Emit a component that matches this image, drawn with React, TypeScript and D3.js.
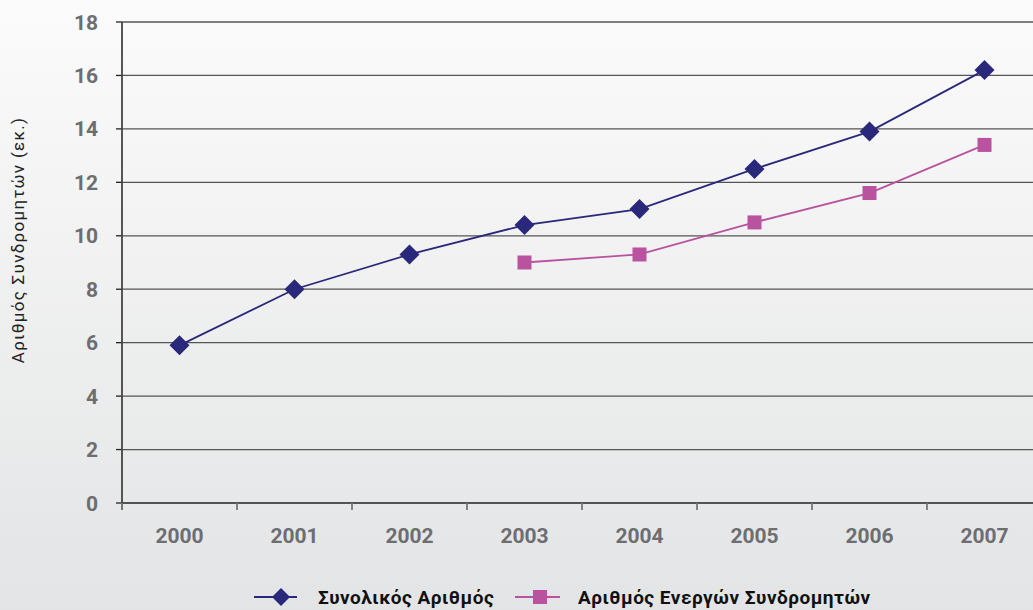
import React from "react";
import * as d3 from "d3";

const years = ["2000", "2001", "2002", "2003", "2004", "2005", "2006", "2007"];
const totalSubs = [5.9, 8.0, 9.3, 10.4, 11.0, 12.5, 13.9, 16.2];
const activeYears = ["2003", "2004", "2005", "2006", "2007"];
const activeSubs = [9.0, 9.3, 10.5, 11.6, 13.4];
const yTicks = [0, 2, 4, 6, 8, 10, 12, 14, 16, 18];
const seriesNames = ["Συνολικός Αριθμός", "Αριθμός Ενεργών Συνδρομητών"];
const yTitle = "Αριθμός Συνδρομητών (εκ.)";

const W = 1033;
const H = 610;
const navy = "#29287a";
const pink = "#b9529f";
const tickColor = "#6d6e71";

export default function App() {
  const x = d3.scaleBand<string>().domain(years).range([122, 1042]);
  const y = d3.scaleLinear().domain([0, 18]).range([503, 22]);
  const cx = (yr: string) => (x(yr) as number) + x.bandwidth() / 2;

  const line = d3
    .line<[string, number]>()
    .x((d) => cx(d[0]))
    .y((d) => y(d[1]));

  const totalPts: [string, number][] = years.map((yr, i) => [yr, totalSubs[i]]);
  const activePts: [string, number][] = activeYears.map((yr, i) => [yr, activeSubs[i]]);

  const diamond = (px: number, py: number, r: number) =>
    `M${px},${py - r}L${px + r},${py}L${px},${py + r}L${px - r},${py}Z`;

  const boundaries = years.map((yr) => x(yr) as number).concat([x.range()[1]]);

  return (
    <div style={{ position: "fixed", left: 0, top: 0 }}>
      <svg width={W} height={H} style={{ display: "block" }}>
        <defs>
          <linearGradient id="bg" x1="0" y1="0" x2="0" y2="1">
            <stop offset="0" stopColor="#fbfbfb" />
            <stop offset="1" stopColor="#e3e4e5" />
          </linearGradient>
        </defs>
        <rect x={0} y={0} width={W} height={H} fill="url(#bg)" />

        {/* gridlines */}
        {yTicks.map((t) => (
          <g key={t}>
            <line x1={122} x2={W} y1={y(t)} y2={y(t)} stroke={t === 0 ? "#222" : "#555"} strokeWidth={1.3} />
            <line x1={116} x2={122} y1={y(t)} y2={y(t)} stroke="#222" strokeWidth={1.3} />
            <text
              x={98}
              y={y(t)}
              dy="0.36em"
              textAnchor="end"
              fill={tickColor}
              fontFamily="Roboto, sans-serif"
              fontWeight={700}
              fontSize={21}
            >
              {t}
            </text>
          </g>
        ))}

        {/* y axis line */}
        <line x1={122} x2={122} y1={y(18)} y2={y(0) + 7} stroke="#444" strokeWidth={1.8} />

        {/* x ticks */}
        {boundaries.map((b, i) => (
          <line key={i} x1={b} x2={b} y1={y(0)} y2={y(0) + 7} stroke="#777" strokeWidth={1.8} />
        ))}
        {years.map((yr) => (
          <text
            key={yr}
            x={cx(yr)}
            y={543}
            textAnchor="middle"
            fill={tickColor}
            fontFamily="Roboto, sans-serif"
            fontWeight={700}
            fontSize={21}
          >
            {yr}
          </text>
        ))}

        {/* y title */}
        <text
          transform={`translate(24,240) rotate(-90)`}
          textAnchor="middle"
          fill="#222"
          fontFamily="Roboto, sans-serif"
          fontSize={17}
          letterSpacing={1.3}
        >
          {yTitle}
        </text>

        {/* series */}
        <path d={line(totalPts) || ""} fill="none" stroke={navy} strokeWidth={1.8} />
        <path d={line(activePts) || ""} fill="none" stroke={pink} strokeWidth={1.8} />
        {totalPts.map((p) => (
          <path key={p[0]} d={diamond(cx(p[0]), y(p[1]), 10)} fill={navy} />
        ))}
        {activePts.map((p) => (
          <rect key={p[0]} x={cx(p[0]) - 7} y={y(p[1]) - 7} width={14} height={14} fill={pink} />
        ))}

        {/* legend */}
        <g>
          <line x1={254} x2={297} y1={597} y2={597} stroke={navy} strokeWidth={2} />
          <path d={diamond(281, 597, 9)} fill={navy} />
          <text x={318} y={597} dy="0.36em" fill="#111" fontFamily="Roboto, sans-serif" fontWeight={700} fontSize={19} letterSpacing={0.5}>
            {seriesNames[0]}
          </text>
          <line x1={515} x2={560} y1={597} y2={597} stroke={pink} strokeWidth={2} />
          <rect x={533} y={590} width={14} height={14} fill={pink} />
          <text x={578} y={597} dy="0.36em" fill="#111" fontFamily="Roboto, sans-serif" fontWeight={700} fontSize={19} letterSpacing={0.5}>
            {seriesNames[1]}
          </text>
        </g>
      </svg>
    </div>
  );
}
